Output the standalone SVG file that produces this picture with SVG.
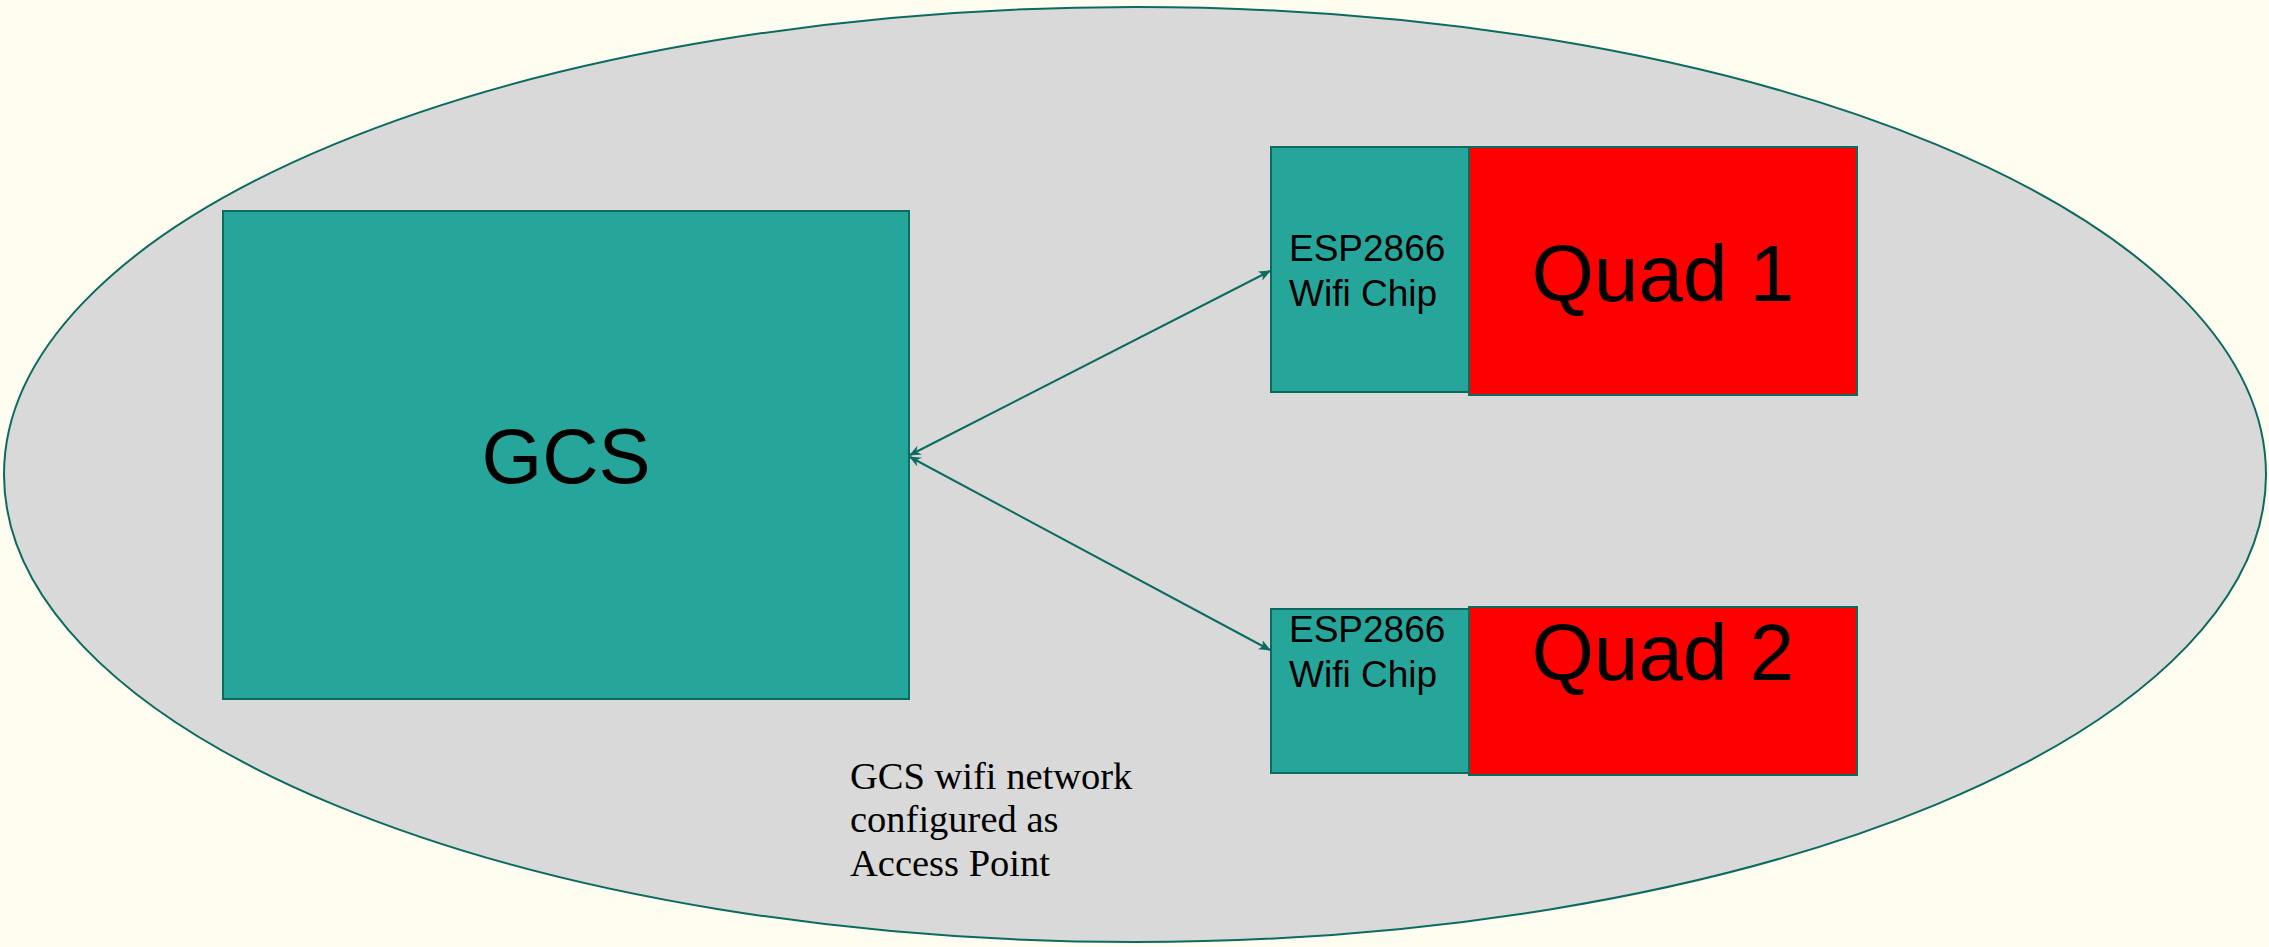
<svg xmlns="http://www.w3.org/2000/svg" width="2269" height="947" viewBox="0 0 2269 947">
  <style>
    .chip { fill: #26a69a; stroke: #0b6b5f; stroke-width: 2; }
    .quad { fill: #ff0000; stroke: #0b6b5f; stroke-width: 2; }
    .sans { font-family: "Liberation Sans", Arial, sans-serif; fill: #000; }
    .esp { font-size: 37px; }
    .serif { font-family: "Liberation Serif", "Times New Roman", serif; fill: #000; font-size: 38.5px; }
    .link { fill: none; stroke: #0b6b5f; stroke-width: 2; }
  </style>
  <defs>
    <marker id="head" viewBox="0 0 12 10" refX="11" refY="5" markerWidth="12" markerHeight="10" markerUnits="userSpaceOnUse" orient="auto-start-reverse">
      <path d="M0,0 L12,5 L0,10 L3,5 Z" fill="#0b6b5f"/>
    </marker>
    <marker id="tail" viewBox="0 0 12 10" refX="11" refY="5" markerWidth="12" markerHeight="10" markerUnits="userSpaceOnUse" orient="auto-start-reverse">
      <path d="M0,0 L12,5 L0,10 L4,5 Z" fill="#0b6b5f"/>
    </marker>
  </defs>

  <rect width="2269" height="947" fill="#fffcf0"/>

  <!-- network boundary -->
  <g id="network">
    <ellipse cx="1135" cy="474.5" rx="1131" ry="467.5" fill="#d9d9d9" stroke="#0b6b5f" stroke-width="2"/>
    <text class="serif" x="850" y="789">GCS wifi network</text>
    <text class="serif" x="850" y="832">configured as</text>
    <text class="serif" x="850" y="876">Access Point</text>
  </g>

  <g id="gcs">
    <rect class="chip" x="223" y="211" width="686" height="488"/>
    <text class="sans" x="566" y="483" font-size="78" text-anchor="middle">GCS</text>
  </g>

  <g id="quad1">
    <rect class="chip" x="1271" y="147" width="198" height="245"/>
    <rect class="quad" x="1469" y="147" width="388" height="248"/>
    <text class="sans esp" x="1289" y="261">ESP2866</text>
    <text class="sans esp" x="1289" y="306">Wifi Chip</text>
    <text class="sans" x="1663" y="301" font-size="80" text-anchor="middle">Quad 1</text>
  </g>

  <g id="quad2">
    <rect class="chip" x="1271" y="609" width="198" height="164"/>
    <rect class="quad" x="1469" y="607" width="388" height="168"/>
    <text class="sans esp" x="1289" y="642">ESP2866</text>
    <text class="sans esp" x="1289" y="687">Wifi Chip</text>
    <text class="sans" x="1663" y="680" font-size="80" text-anchor="middle">Quad 2</text>
  </g>

  <!-- bidirectional wifi links -->
  <g id="connectors">
    <line class="link" x1="910" y1="455" x2="1270" y2="271" marker-start="url(#tail)" marker-end="url(#head)"/>
    <line class="link" x1="910" y1="457" x2="1270" y2="650" marker-start="url(#tail)" marker-end="url(#head)"/>
  </g>
</svg>
